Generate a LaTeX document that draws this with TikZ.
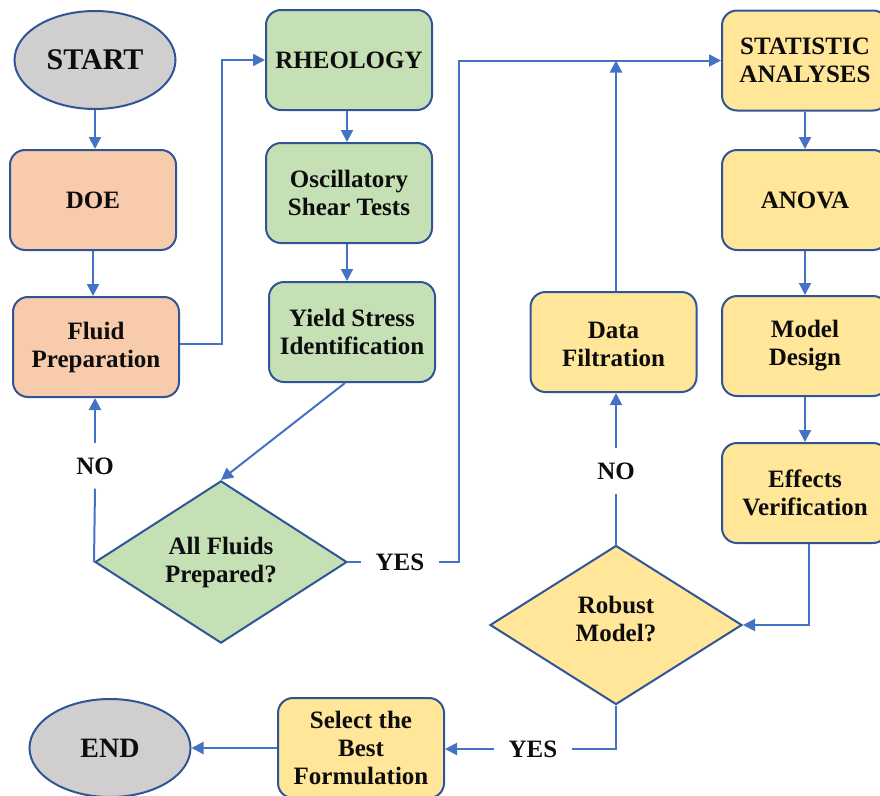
\documentclass[tikz,border=0pt]{standalone}
\usepackage{fontspec}
\setmainfont{Liberation Serif}
\usetikzlibrary{shapes.geometric,arrows.meta}
\definecolor{bord}{HTML}{2F5597}
\definecolor{arr}{HTML}{4472C4}
\definecolor{orangef}{HTML}{F8CBAD}
\definecolor{greenf}{HTML}{C5E0B4}
\definecolor{yellowf}{HTML}{FFE699}
\definecolor{grayf}{HTML}{D0CECE}
\definecolor{txt}{HTML}{0D0D0D}
\begin{document}
\begin{tikzpicture}[x=1pt,y=-1pt,
  txtfont/.style={font=\fontsize{25}{28}\selectfont\bfseries, text=txt},
  box/.style={draw=bord, line width=2pt, rounded corners=15pt, minimum width=166pt, minimum height=100pt, align=center, inner sep=0pt, txtfont},
  orangebox/.style={box, fill=orangef},
  greenbox/.style={box, fill=greenf},
  yellowbox/.style={box, fill=yellowf},
  term/.style={ellipse, draw=bord, line width=2pt, fill=grayf, minimum width=161pt, minimum height=98pt, inner sep=0pt, font=\fontsize{28}{32}\selectfont\bfseries, text=txt},
  decision/.style={diamond, draw=bord, line width=2pt, minimum width=252pt, minimum height=159pt, inner sep=0pt, align=center, txtfont},
  lbl/.style={inner sep=14pt, txtfont},
  conn/.style={draw=arr, line width=2pt},
  arrow/.style={conn, -{Triangle[length=12pt,width=12pt]}},
]
\useasboundingbox (0,0) rectangle (880,795);

% nodes
\node[term, font=\fontsize{30}{34}\selectfont\bfseries] (start) at (95,60) {START};
\node[orangebox] (doe) at (93,200) {DOE};
\node[orangebox] (fluid) at (96,347) {Fluid\\Preparation};
\node[greenbox] (rheo) at (349,60) {RHEOLOGY};
\node[greenbox] (osc) at (349,193) {Oscillatory\\Shear Tests};
\node[greenbox] (yield) at (352,332) {Yield Stress\\Identification};
\node[decision, fill=greenf] (allf) at (221,562) {All Fluids\\Prepared?};
\node[lbl] (no1) at (95,466) {NO};
\node[lbl] (yes1) at (400,562) {YES};
\node[yellowbox] (stat) at (805,60.5) {STATISTIC\\ANALYSES};
\node[yellowbox] (anova) at (805,200) {ANOVA};
\node[yellowbox] (model) at (805,346) {Model\\Design};
\node[yellowbox] (eff) at (805,493) {Effects\\Verification};
\node[yellowbox, label={[txtfont, align=center, yshift=-2pt]center:Data\\Filtration}] (datf) at (613.5,342) {};
\node[decision, fill=yellowf, label={[txtfont, align=center, yshift=6pt]center:Robust\\Model?}] (rob) at (616,625) {};
\node[lbl] (no2) at (616,471) {NO};
\node[lbl] (yes2) at (533,749) {YES};
\node[yellowbox] (sel) at (361,748) {Select the\\Best\\Formulation};
\node[term] (end) at (110,748) {END};

% connectors
\draw[arrow] (start.south) -- (start.south |- doe.north);
\draw[arrow] (doe.south) -- (doe.south |- fluid.north);
\draw[arrow] ([yshift=3pt]fluid.east) -- ++(42,0) |- (rheo.west);
\draw[arrow] ([xshift=-2pt]rheo.south) -- ([xshift=-2pt]rheo.south |- osc.north);
\draw[arrow] ([xshift=-2pt]osc.south) -- ([xshift=-2pt]osc.south |- yield.north);
\draw[arrow] ([xshift=-7pt]yield.south) -- (allf.north);
\draw[conn] (allf.west) -- (no1.south);
\draw[arrow] (no1.north) -- (no1.north |- fluid.south);
\draw[conn] (allf.east) -- (yes1.west);
\draw[arrow] (yes1.east) -- ++(20,0) |- (stat.west);
\draw[arrow] (stat.south) -- (stat.south |- anova.north);
\draw[arrow] (anova.south) -- (anova.south |- model.north);
\draw[arrow] (model.south) -- (model.south |- eff.north);
\draw[arrow] ([xshift=4pt]eff.south) |- (rob.east);
\draw[conn] (rob.north) -- (no2.south);
\draw[arrow] (no2.north) -- (no2.north |- datf.south);
\draw[arrow] (no2 |- datf.north) -- (no2 |- stat.west);
\draw[conn] (rob.south) |- (yes2.east);
\draw[arrow] (yes2.west) -- (yes2.west -| sel.east);
\draw[arrow] (sel.west) -- (sel.west -| end.east);
\end{tikzpicture}
\end{document}
